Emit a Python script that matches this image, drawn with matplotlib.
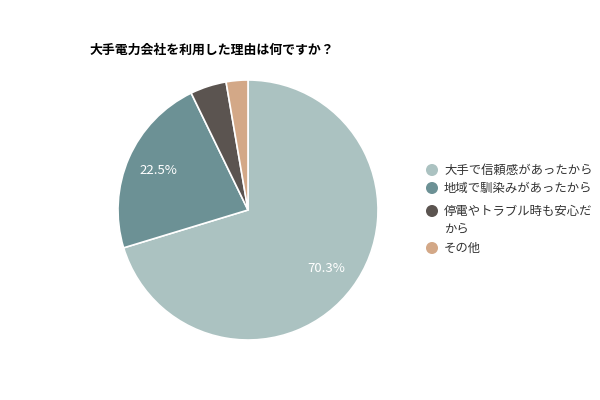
import matplotlib
matplotlib.use("Agg")
import matplotlib.pyplot as plt

plt.rcParams['font.family'] = ['Noto Sans CJK JP', 'DejaVu Sans']

# データ
labels = ['大手で信頼感があったから', '地域で馴染みがあったから',
          '停電やトラブル時も安心だ\nから', 'その他']
values = [70.3, 22.5, 4.5, 2.7]
colors = ['#abc2c1', '#6c9195', '#5b5450', '#d3a887']
title = '大手電力会社を利用した理由は何ですか？'

fig = plt.figure(figsize=(6, 4), dpi=100)
ax = fig.add_axes([0, 0, 1, 1])

def pct(p):
    return f'{p:.1f}%' if p > 10 else ''

wedges, _, autotexts = ax.pie(values, colors=colors, startangle=90, counterclock=False,
                              center=(248, 190), radius=130, autopct=pct, pctdistance=0.75,
                              wedgeprops=dict(edgecolor='white', linewidth=1.2),
                              frame=True)
for t in autotexts:
    t.set_color('white')
    t.set_fontsize(9.5)
ax.set_xlim(0, 600)
ax.set_ylim(0, 400)
ax.set_aspect('equal')
ax.axis('off')

ax.text(90, 350, title, fontsize=9.3, fontweight='bold', ha='left', va='center')

# 凡例
ys = [230, 212, 189, 152]
for y, lab, c in zip(ys, labels, colors):
    ax.scatter(432, y, s=75, color=c, edgecolors='none')
    ax.text(444, y + (0 if '\n' not in lab else -9), lab, fontsize=8.9, color='#333333',
            ha='left', va='center', linespacing=1.5)

fig.savefig('out.png', dpi=100)
